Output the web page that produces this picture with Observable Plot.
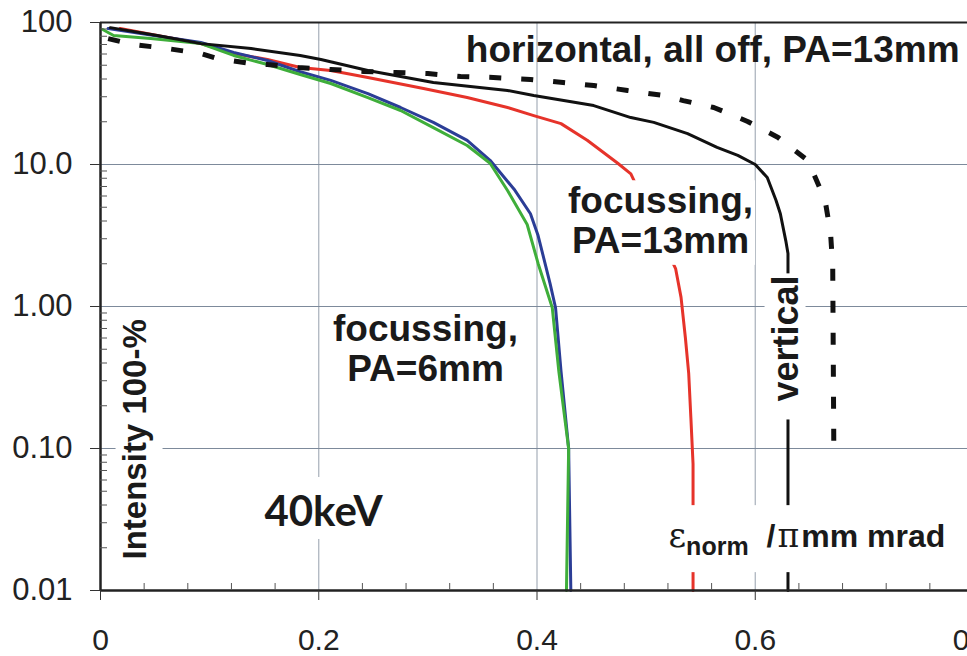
<!DOCTYPE html>
<html><head><meta charset="utf-8">
<script src="https://cdn.jsdelivr.net/npm/d3@7"></script>
<script src="https://cdn.jsdelivr.net/npm/@observablehq/plot@0.6"></script>
<style>
html,body{margin:0;padding:0;width:967px;height:656px;overflow:hidden;background:#fff}
#chart{width:990px}
#chart svg{max-width:none !important;width:990px;height:656px}
</style></head><body><div id="chart"></div>
<script>
// ---- data (x: emittance, y: intensity %) ----
const solidX = [0.009, 0.052, 0.092, 0.138, 0.183, 0.202, 0.245, 0.305, 0.373, 0.397, 0.452, 0.486, 0.507, 0.538, 0.565, 0.584, 0.600, 0.611, 0.619, 0.623, 0.628, 0.630, 0.630];
const solidY = [92, 81, 71, 65.6, 58.6, 54.9, 45.9, 37.8, 33.2, 30.6, 26.0, 21.4, 19.8, 16.5, 13.2, 11.6, 10.0, 8.1, 5.6, 4.5, 2.9, 2.36, 0.01];

const dashedX = [0.007, 0.030, 0.061, 0.092, 0.107, 0.138, 0.153, 0.181, 0.211, 0.241, 0.270, 0.300, 0.330, 0.360, 0.394, 0.424, 0.452, 0.483, 0.516, 0.534, 0.562, 0.593, 0.621, 0.648, 0.653, 0.664, 0.669, 0.671, 0.672];
const dashedY = [77, 70, 65.6, 60.5, 55.8, 51.4, 50.6, 48.2, 46.7, 45.2, 44.5, 43.7, 41.7, 41.0, 39.7, 37.8, 36.0, 33.2, 30.6, 28.2, 25.2, 20.1, 15.5, 10.7, 8.8, 5.6, 3.3, 1.9, 0.10];

const redX = [0.018, 0.052, 0.092, 0.122, 0.153, 0.183, 0.211, 0.245, 0.296, 0.336, 0.373, 0.397, 0.422, 0.446, 0.474, 0.486, 0.527, 0.532, 0.536, 0.539, 0.541, 0.543, 0.543];
const redY = [90.7, 81, 71.1, 60.5, 54.9, 48.2, 45.9, 41.0, 34.3, 29.6, 25.2, 22.1, 19.4, 14.8, 10.2, 8.6, 1.85, 1.16, 0.6, 0.34, 0.165, 0.078, 0.01];

const blueX = [0.007, 0.037, 0.092, 0.122, 0.153, 0.183, 0.211, 0.245, 0.275, 0.305, 0.336, 0.357, 0.379, 0.394, 0.401, 0.412, 0.417, 0.422, 0.429, 0.431];
const blueY = [90.7, 83.7, 72.3, 61.5, 54.0, 45, 39.1, 31.6, 25.2, 19.8, 14.8, 10.7, 6.7, 4.5, 3.16, 1.45, 0.98, 0.35, 0.10, 0.01];

const greenX = [0.002, 0.012, 0.046, 0.092, 0.122, 0.153, 0.183, 0.211, 0.245, 0.275, 0.305, 0.336, 0.357, 0.373, 0.391, 0.401, 0.414, 0.420, 0.429, 0.427];
const greenY = [89.3, 81, 77.1, 71.1, 58.6, 50.6, 43.0, 37.2, 29.6, 24.0, 18.2, 13.6, 10.2, 6.56, 3.78, 2.01, 0.98, 0.35, 0.10, 0.01];

// ---- ticks ----
const yMajor = [0.01, 0.1, 1, 10, 100];
const yLabels = ["0.01", "0.10", "1.00", "10.0", "100"];
const yMinor = [0.02,0.03,0.04,0.05,0.06,0.07,0.08,0.09, 0.2,0.3,0.4,0.5,0.6,0.7,0.8,0.9, 2,3,4,5,6,7,8,9, 20,30,40,50,60,70,80,90];
const xMajor = [0, 0.2, 0.4, 0.6, 0.8];
const xLabels = ["0", "0.2", "0.4", "0.6", "0.8"];
const xMinor = [0.04,0.08,0.12,0.16, 0.24,0.28,0.32,0.36, 0.44,0.48,0.52,0.56, 0.64,0.68,0.72,0.76];

const rows = (xs, ys) => xs.map((x, i) => ({x, y: ys[i]}));

const F = "Liberation Sans, Arial, sans-serif";
const BOLD = {fontFamily: F, fontWeight: "bold", fill: "#1a1a1a", lineAnchor: "middle"};

const chart = Plot.plot({
  width: 990, height: 656,
  marginLeft: 100, marginRight: 17, marginTop: 22, marginBottom: 66,
  style: {fontFamily: F, background: "white", color: "#222", maxWidth: "none"},
  x: {domain: [0, 0.8]},
  y: {type: "log", domain: [0.01, 100]},
  marks: [
    Plot.gridX([0.2, 0.4, 0.6], {stroke: "#a7afba", strokeOpacity: 1, strokeWidth: 1.2}),
    Plot.gridY([0.1, 1, 10], {stroke: "#7d8a9b", strokeOpacity: 1, strokeWidth: 1.2}),
    Plot.line(rows(redX, redY), {x: "x", y: "y", stroke: "#e6332a", strokeWidth: 3}),
    Plot.line(rows(blueX, blueY), {x: "x", y: "y", stroke: "#2b3d96", strokeWidth: 3}),
    Plot.line(rows(greenX, greenY), {x: "x", y: "y", stroke: "#3fae3a", strokeWidth: 3}),
    Plot.line(rows(dashedX, dashedY), {x: "x", y: "y", stroke: "#111", strokeWidth: 5, strokeDasharray: "12,20", strokeLinecap: "butt", strokeLinejoin: "miter"}),
    Plot.line(rows(solidX, solidY), {x: "x", y: "y", stroke: "#111", strokeWidth: 3}),
    Plot.ruleY([100], {stroke: "#222", strokeWidth: 2}),
    Plot.ruleY([0.01], {stroke: "#222", strokeWidth: 2.5}),
    Plot.ruleX([0], {stroke: "#222", strokeWidth: 2.5}),
    Plot.axisY(yMajor, {anchor: "left", tickSize: 10, tickFormat: () => "", label: null, stroke: "#333"}),
    Plot.axisY(yMinor, {anchor: "left", tickSize: -7, tickFormat: () => "", label: null, stroke: "#555"}),
    Plot.text(yMajor, {y: d => d, text: (d, i) => yLabels[i], frameAnchor: "left", textAnchor: "end", lineAnchor: "middle", dx: -28, fontSize: 31, fill: "#222", fontFamily: F}),
    Plot.axisX(xMajor, {anchor: "bottom", tickSize: 10, tickPadding: 28, fontSize: 30, tickFormat: (d, i) => xLabels[i], label: null, stroke: "#333", fill: "#222"}),
    Plot.axisX(xMinor, {anchor: "bottom", tickSize: -7, tickFormat: () => "", label: null, stroke: "#555"}),
    // labels
    Plot.text(["horizontal, all off, PA=13mm"], {...BOLD, x: () => 0.561, y: () => 63.5, fontSize: 37}),
    Plot.text(["focussing,\nPA=13mm"], {...BOLD, x: () => 0.5132, y: () => 4.04, fontSize: 37, lineHeight: 1.07}),
    Plot.text(["focussing,\nPA=6mm"], {...BOLD, x: () => 0.2978, y: () => 0.506, fontSize: 37, lineHeight: 1.07}),
    Plot.text(["vertical"], {...BOLD, x: () => 0.6282, y: () => 0.596, fontSize: 36, rotate: -90}),
    Plot.text(["Intensity 100-%"], {...BOLD, x: () => 0.0316, y: () => 0.116, fontSize: 33, rotate: -90}),
    Plot.text(["40keV"], {...BOLD, fontFamily: "Lato, Open Sans, sans-serif", x: () => 0.2044, y: () => 0.0354, fontSize: 42}),
    Plot.text(["εnorm /πmm mrad"], {...BOLD, textAnchor: "start", x: () => 0.5205, y: () => 0.02385, fontSize: 32})
  ]
});
chart.style.maxWidth = "none";
document.getElementById("chart").append(chart);

const NS = "http://www.w3.org/2000/svg";
const allTexts = Array.from(chart.querySelectorAll("text"));
const findText = prefix => allTexts.find(t => t.textContent.startsWith(prefix));

// rich text for the unit label
(function () {
  const t = findText("εnorm");
  if (!t) return;
  const parts = [
    {s: "ε", a: {"font-family": "DejaVu Serif, serif", "font-weight": "normal", "font-size": 34}},
    {s: "norm", a: {"font-size": 25, dy: 8}},
    {s: "/", a: {dx: 18, dy: -8}},
    {s: "π", a: {"font-family": "DejaVu Serif, serif", "font-weight": "normal", "font-size": 33, dx: 2}},
    {s: "mm mrad", a: {dx: 2}}
  ];
  while (t.firstChild) t.removeChild(t.firstChild);
  for (const p of parts) {
    const ts = document.createElementNS(NS, "tspan");
    for (const k in p.a) ts.setAttribute(k, p.a[k]);
    ts.textContent = p.s;
    t.appendChild(ts);
  }
})();

// white boxes behind labels (pads: left, top, right, bottom in text coordinates)
const pads = [
  ["focussing,PA=13", [6, 0, 2, 4]],
  ["vertical", [18, 0, 2, 0]],
  ["Intensity", [0, 0, 0, 10]],
  ["40keV", [6, 8, 6, 4]],
  ["εnorm", [8, 10, 8, 12]]
];
for (const [prefix, p] of pads) {
  const t = findText(prefix);
  if (!t) continue;
  const b = t.getBBox();
  const r = document.createElementNS(NS, "rect");
  r.setAttribute("x", b.x - p[0]);
  r.setAttribute("y", b.y - p[1]);
  r.setAttribute("width", b.width + p[0] + p[2]);
  r.setAttribute("height", b.height + p[1] + p[3]);
  r.setAttribute("fill", "white");
  const tr = t.getAttribute("transform");
  if (tr) r.setAttribute("transform", tr);
  t.parentNode.insertBefore(r, t);
}
</script>
</body></html>
